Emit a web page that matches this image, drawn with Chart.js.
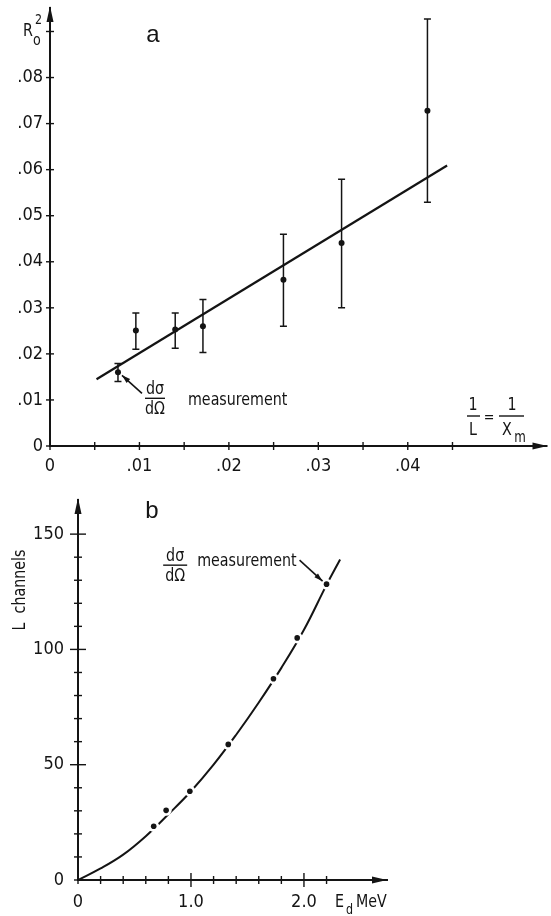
<!DOCTYPE html>
<html>
<head>
<meta charset="utf-8">
<script src="https://cdn.jsdelivr.net/npm/chart.js@4.4.1/dist/chart.umd.min.js"></script>
<style>
  body { margin: 0; background: #fff; }
  #wrap { position: relative; width: 551px; height: 916px; }
  #chart-a { position: absolute; left: 0; top: 0; }
  #chart-b { position: absolute; left: 0; top: 490px; }
</style>
</head>
<body>
<div id="wrap">
  <canvas id="chart-a" width="551" height="490"></canvas>
  <canvas id="chart-b" width="551" height="426"></canvas>
</div>
<script>
// panel a : R0^2 against 1/L
const aX = [0.0076, 0.0096, 0.0140, 0.0171, 0.0261, 0.0326, 0.0422];
const aY = [0.0160, 0.0251, 0.0253, 0.0260, 0.0361, 0.0441, 0.0728];
const aLow = [0.0140, 0.0210, 0.0212, 0.0203, 0.0260, 0.0300, 0.0529];
const aHigh = [0.0179, 0.0289, 0.0289, 0.0318, 0.0460, 0.0579, 0.0927];
const fitX = [0.0052, 0.0444];
const fitY = [0.0145, 0.0609];
const aXTicks = [0, 0.005, 0.01, 0.015, 0.02, 0.025, 0.03, 0.035, 0.04, 0.045];
const aXTickLabels = ["0", "", ".01", "", ".02", "", ".03", "", ".04", ""];
const aYTicks = [0, 0.01, 0.02, 0.03, 0.04, 0.05, 0.06, 0.07, 0.08, 0.09];
const aYTickLabels = ["0", ".01", ".02", ".03", ".04", ".05", ".06", ".07", ".08", ""];

// panel b : L channels against E_d
const bE = [0.67, 0.78, 0.99, 1.33, 1.73, 1.94, 2.20];
const bL = [23.3, 30.2, 38.5, 58.8, 87.3, 105.0, 128.3];
const curveE = [0, 0.2, 0.4, 0.6, 0.8, 1.0, 1.2, 1.4, 1.6, 1.8, 2.0, 2.2, 2.32];
const curveL = [0, 5.0, 11.0, 19.0, 28.5, 38.5, 50.0, 63.0, 77.0, 92.0, 108.5, 128.0, 139.0];
const bXTicks = [0, 0.2, 0.4, 0.6, 0.8, 1.0, 1.2, 1.4, 1.6, 1.8, 2.0, 2.2];
const bXTickLabels = ["0", "", "", "", "", "1.0", "", "", "", "", "2.0", ""];
const bYTicks = [0, 10, 20, 30, 40, 50, 60, 70, 80, 90, 100, 110, 120, 130, 140, 150];
const bYTickLabels = ["0", "", "", "", "", "50", "", "", "", "", "100", "", "", "", "", "150"];

const INK = "#141414";
const FONT = '"DejaVu Sans Condensed", "DejaVu Sans", sans-serif';

Chart.defaults.font.family = FONT;
Chart.defaults.font.size = 18;
Chart.defaults.color = INK;

function line(ctx, x1, y1, x2, y2, w) {
  ctx.lineWidth = w || 1.5;
  ctx.beginPath();
  ctx.moveTo(x1, y1);
  ctx.lineTo(x2, y2);
  ctx.stroke();
}

// text squeezed a little sideways, the original lettering is narrow
function txt(ctx, s, x, y, size, align, family, squeeze) {
  const k = squeeze || 0.88;
  ctx.save();
  ctx.font = size + "px " + (family || FONT);
  ctx.textAlign = align || "left";
  ctx.textBaseline = "middle";
  ctx.translate(x, y);
  ctx.scale(k, 1);
  ctx.fillText(s, 0, 0);
  ctx.restore();
}

function textWidth(ctx, s, size) {
  ctx.font = size + "px " + FONT;
  return ctx.measureText(s).width * 0.88;
}

function frac(ctx, top, bottom, cx, cy, half) {
  txt(ctx, top, cx, cy - 9, 18, "center");
  line(ctx, cx - half, cy, cx + half, cy, 1.4);
  txt(ctx, bottom, cx, cy + 11, 18, "center");
}

function arrowLine(ctx, x1, y1, x2, y2) {
  line(ctx, x1, y1, x2, y2, 1.6);
  const ang = Math.atan2(y2 - y1, x2 - x1);
  ctx.beginPath();
  ctx.moveTo(x2, y2);
  ctx.lineTo(x2 - 9 * Math.cos(ang - 0.3), y2 - 9 * Math.sin(ang - 0.3));
  ctx.lineTo(x2 - 9 * Math.cos(ang + 0.3), y2 - 9 * Math.sin(ang + 0.3));
  ctx.closePath();
  ctx.fill();
}

// tick marks crossing the axes plus arrow heads
function drawAxes(chart, xLen, yLen, xTipPad) {
  const ctx = chart.ctx;
  const xs = chart.scales.x;
  const ys = chart.scales.y;
  const area = chart.chartArea;
  const x0 = xs.getPixelForValue(0);
  const y0 = ys.getPixelForValue(0);
  ctx.save();
  ctx.strokeStyle = INK;
  ctx.fillStyle = INK;
  xs.ticks.forEach(function (t, i) {
    const px = xs.getPixelForValue(t.value);
    const len = xLen(i);
    line(ctx, px, y0 - len, px, y0 + len, 1.4);
  });
  ys.ticks.forEach(function (t, i) {
    const py = ys.getPixelForValue(t.value);
    const len = yLen(i);
    line(ctx, x0 - len, py, x0 + len, py, 1.4);
  });
  // y arrow
  ctx.beginPath();
  ctx.moveTo(x0, area.top - 2);
  ctx.lineTo(x0 - 3.5, area.top + 14);
  ctx.lineTo(x0 + 3.5, area.top + 14);
  ctx.closePath();
  ctx.fill();
  // x arrow
  const tip = area.right + xTipPad;
  line(ctx, area.right - 2, y0, tip, y0, 2);
  ctx.beginPath();
  ctx.moveTo(tip, y0);
  ctx.lineTo(tip - 15, y0 - 3.5);
  ctx.lineTo(tip - 15, y0 + 3.5);
  ctx.closePath();
  ctx.fill();
  ctx.restore();
}

const decorA = {
  id: "decorA",
  afterDraw(chart) {
    const ctx = chart.ctx;
    const xs = chart.scales.x;
    const ys = chart.scales.y;
    drawAxes(chart, () => 4, () => 4, 2);

    ctx.save();
    ctx.fillStyle = INK;
    ctx.strokeStyle = INK;

    // axis name R0^2
    txt(ctx, "R", 23, 31, 18);
    txt(ctx, "o", 33, 41, 16);
    txt(ctx, "2", 35, 20, 14);

    // panel letter
    txt(ctx, "a", 153, 35, 24, "center", '"Liberation Sans", Arial, sans-serif', 1);

    // x axis name 1/L = 1/X_m
    txt(ctx, "1", 473, 405, 18, "center");
    line(ctx, 467, 416, 480, 416, 1.4);
    txt(ctx, "L", 473, 430, 18, "center");
    txt(ctx, "=", 489, 418, 16, "center");
    txt(ctx, "1", 512, 405, 18, "center");
    line(ctx, 499, 416, 524, 416, 1.4);
    txt(ctx, "X", 507, 430, 18, "center");
    txt(ctx, "m", 520, 438, 15, "center");

    // annotation on the first point
    const px = xs.getPixelForValue(aX[0]);
    const py = ys.getPixelForValue(aY[0]);
    arrowLine(ctx, px + 24, py + 21, px + 4, py + 3);
    frac(ctx, "d\u03c3", "d\u03a9", px + 37, py + 26, 10);
    txt(ctx, "measurement", px + 70, py + 28, 18);

    ctx.restore();
  }
};

const decorB = {
  id: "decorB",
  afterDraw(chart) {
    const ctx = chart.ctx;
    const xs = chart.scales.x;
    const ys = chart.scales.y;
    drawAxes(
      chart,
      (i) => (bXTickLabels[i] !== "" && i > 0 ? 7 : 4),
      (i) => (bYTickLabels[i] !== "" && i > 0 ? 8 : 4),
      0
    );

    ctx.save();
    ctx.fillStyle = INK;
    ctx.strokeStyle = INK;

    txt(ctx, "b", 152, 21, 24, "center", '"Liberation Sans", Arial, sans-serif', 1);

    // y axis name, rotated
    ctx.save();
    ctx.translate(20, 100);
    ctx.rotate(-Math.PI / 2);
    txt(ctx, "L  channels", 0, 0, 18, "center");
    ctx.restore();

    // x axis name
    txt(ctx, "E", 335, 412, 18);
    txt(ctx, "d", 346, 420, 14);
    txt(ctx, "MeV", 356, 412, 18);

    // annotation on the last point
    const qx = xs.getPixelForValue(bE[bE.length - 1]);
    const qy = ys.getPixelForValue(bL[bL.length - 1]);
    arrowLine(ctx, qx - 27, qy - 24, qx - 4, qy - 3);
    const w = textWidth(ctx, "measurement", 18);
    txt(ctx, "measurement", qx - 30, qy - 23, 18, "right");
    frac(ctx, "d\u03c3", "d\u03a9", qx - 30 - w - 22, qy - 19, 12);

    ctx.restore();
  }
};

function pairs(xs, ys) {
  return xs.map(function (x, i) {
    return { x: x, y: ys[i] };
  });
}

const errData = [];
aX.forEach(function (x, i) {
  errData.push({ x: x, y: aLow[i] }, { x: x, y: aHigh[i] }, { x: x, y: null });
});

function noPadY(s) { s.paddingTop = 0; s.paddingBottom = 0; }
function noPadX(s) { s.paddingLeft = 0; s.paddingRight = 0; }

new Chart(document.getElementById("chart-a"), {
  type: "scatter",
  data: {
    datasets: [
      {
        data: pairs(aX, aY),
        pointRadius: 3,
        pointBackgroundColor: INK,
        pointBorderColor: INK,
        pointBorderWidth: 0,
        order: 0
      },
      {
        data: errData,
        showLine: true,
        spanGaps: false,
        borderColor: INK,
        borderWidth: 1.5,
        pointStyle: "line",
        pointRadius: 3.5,
        pointBorderColor: INK,
        pointBorderWidth: 1.5,
        order: 1
      },
      {
        data: pairs(fitX, fitY),
        showLine: true,
        borderColor: INK,
        borderWidth: 2.2,
        pointRadius: 0,
        order: 2
      }
    ]
  },
  options: {
    responsive: false,
    animation: false,
    events: [],
    layout: { padding: { top: 8, right: 2, left: 0, bottom: 0 } },
    plugins: { legend: { display: false }, tooltip: { enabled: false } },
    scales: {
      x: {
        type: "linear",
        min: 0,
        max: 0.0554,
        afterFit: function (s) { s.height = 44; noPadX(s); },
        afterBuildTicks: function (s) { s.ticks = aXTicks.map((v) => ({ value: v })); },
        grid: { display: false, drawTicks: false },
        border: { display: true, color: INK, width: 2 },
        ticks: {
          padding: 10,
          maxRotation: 0,
          autoSkip: false,
          callback: function (value, index) { return aXTickLabels[index]; }
        }
      },
      y: {
        type: "linear",
        min: 0,
        max: 0.0951,
        afterFit: function (s) { s.width = 50; noPadY(s); },
        afterBuildTicks: function (s) { s.ticks = aYTicks.map((v) => ({ value: v })); },
        grid: { display: false, drawTicks: false },
        border: { display: true, color: INK, width: 2 },
        ticks: {
          padding: 7,
          autoSkip: false,
          callback: function (value, index) { return aYTickLabels[index]; }
        }
      }
    }
  },
  plugins: [decorA]
});

new Chart(document.getElementById("chart-b"), {
  type: "scatter",
  data: {
    datasets: [
      {
        data: pairs(bE, bL),
        pointRadius: 2.8,
        pointBackgroundColor: INK,
        pointBorderWidth: 0,
        order: 0
      },
      {
        data: pairs(bE, bL),
        pointRadius: 5.5,
        pointBackgroundColor: "#fff",
        pointBorderWidth: 0,
        order: 1
      },
      {
        data: pairs(curveE, curveL),
        showLine: true,
        tension: 0.4,
        borderColor: INK,
        borderWidth: 2,
        pointRadius: 0,
        order: 2
      }
    ]
  },
  options: {
    responsive: false,
    animation: false,
    events: [],
    layout: { padding: { top: 10, right: 164, left: 0, bottom: 0 } },
    plugins: { legend: { display: false }, tooltip: { enabled: false } },
    scales: {
      x: {
        type: "linear",
        min: 0,
        max: 2.735,
        afterFit: function (s) { s.height = 36; noPadX(s); },
        afterBuildTicks: function (s) { s.ticks = bXTicks.map((v) => ({ value: v })); },
        grid: { display: false, drawTicks: false },
        border: { display: true, color: INK, width: 2 },
        ticks: {
          padding: 12,
          maxRotation: 0,
          autoSkip: false,
          callback: function (value, index) { return bXTickLabels[index]; }
        }
      },
      y: {
        type: "linear",
        min: 0,
        max: 164.8,
        afterFit: function (s) { s.width = 78; noPadY(s); },
        afterBuildTicks: function (s) { s.ticks = bYTicks.map((v) => ({ value: v })); },
        grid: { display: false, drawTicks: false },
        border: { display: true, color: INK, width: 2 },
        ticks: {
          padding: 14,
          autoSkip: false,
          callback: function (value, index) { return bYTickLabels[index]; }
        }
      }
    }
  },
  plugins: [decorB]
});
</script>
</body>
</html>
